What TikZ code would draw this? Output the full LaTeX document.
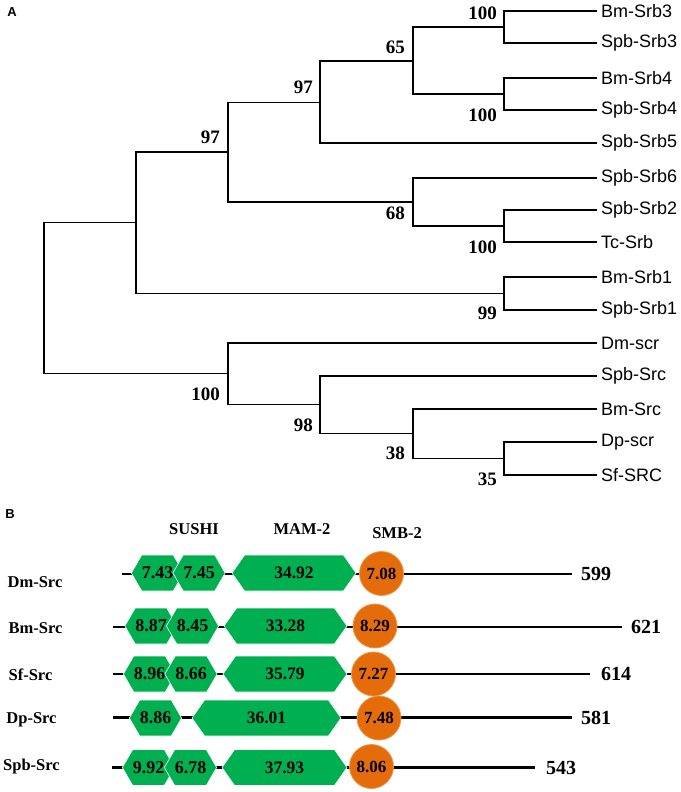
\documentclass[tikz,border=0pt]{standalone}
\usepackage{fontspec}
\setmainfont{Liberation Serif}
\newfontfamily\arialfont{Liberation Sans}
\usepackage{tikz}
\usetikzlibrary{shapes.symbols,positioning}
\definecolor{domgreen}{RGB}{0,176,80}
\definecolor{smborange}{RGB}{228,108,10}
\definecolor{smbedge}{RGB}{240,150,70}

\begin{document}
\begin{tikzpicture}[x=1pt,y=-1pt,
    branch/.style={line width=1.1pt},
    leaf/.style={anchor=west, inner sep=4pt, font=\arialfont\fontsize{18}{20}\selectfont},
    boot/.style={anchor=east, inner sep=0pt, font=\bfseries\fontsize{19}{21}\selectfont},
    panel/.style={font=\arialfont\bfseries\fontsize{13}{15}\selectfont},
    head/.style={font=\bfseries\fontsize{16.5}{18}\selectfont},
    rowlab/.style={font=\bfseries\fontsize{16.5}{18}\selectfont},
    lenlab/.style={anchor=west, inner sep=0pt, font=\bfseries\fontsize{20}{22}\selectfont},
    backbone/.style={line width=2.8pt},
    sushi/.style={signal, signal to=east and west, signal pointer angle=120,
        fill=domgreen, draw=white, line width=0.6pt, inner sep=0pt,
        minimum height=36, font=\bfseries\fontsize{18}{20}\selectfont},
    mam/.style={sushi, signal pointer angle=110, font=\bfseries\fontsize{17.5}{19}\selectfont},
    smb/.style={circle, fill=smborange, draw=smbedge, line width=0.8pt, inner sep=0pt,
        minimum size=44, font=\bfseries\fontsize{17}{19}\selectfont}]
    \useasboundingbox (0,0) rectangle (680,792);

    % Panel A: tree
    \node[panel] (pa) at (12,12) {A};

    % Leaves
    \foreach \n/\y/\t in {bmsrb3/11/Bm-Srb3, spbsrb3/43/Spb-Srb3, bmsrb4/78/Bm-Srb4,
        spbsrb4/110/Spb-Srb4, spbsrb5/143/Spb-Srb5, spbsrb6/178/Spb-Srb6,
        spbsrb2/210/Spb-Srb2, tcsrb/242/Tc-Srb, bmsrb1/277/Bm-Srb1,
        spbsrb1/310/Spb-Srb1, dmscr/343/Dm-scr, spbsrc/376/Spb-Src,
        bmsrc/409/Bm-Src, dpscr/442/Dp-scr, sfsrc/475/Sf-SRC}
        \node[leaf] (\n) at (597,\y) {\t};

    % Internal nodes
    \foreach \n/\x/\y in {nr/44/297.5, na/136/222.5, nb/228/152, nc/320/102.5,
        nd/413/61, ne/504/27, nf/504/94, ng/413/202, nh/504/226, ni/504/293.5,
        nj/228/373.5, nk/320/404.5, nl/413/433.5, nm/504/458.5}
        \coordinate (\n) at (\x,\y);

    % Branches
    \foreach \p/\c in {nr/na, nr/nj, na/nb, na/ni, nb/nc, nb/ng, nc/nd, nc/spbsrb5,
        nd/ne, nd/nf, ne/bmsrb3, ne/spbsrb3, nf/bmsrb4, nf/spbsrb4,
        ng/spbsrb6, ng/nh, nh/spbsrb2, nh/tcsrb, ni/bmsrb1, ni/spbsrb1,
        nj/dmscr, nj/nk, nk/spbsrc, nk/nl, nl/bmsrc, nl/nm, nm/dpscr, nm/sfsrc}
        \draw[branch] (\p) |- (\c);

    % Bootstrap values
    \foreach \n/\x/\y/\v in {bte/497/13/100, btd/405/47/65, btc/313/87/97,
        btb/220/137/97, btf/497/115/100, btg/405/213/68, bth/497/247/100,
        bti/497/313/99, btj/220/394/100, btk/313/425/98, btl/405/453/38,
        btm/497/479/35}
        \node[boot] (\n) at (\x,\y) {\v};

    % Panel B: domains
    \node[panel] (pb) at (10,514) {B};
    \node[head] (hsushi) at (194,529) {SUSHI};
    \node[head] (hmam) at (302,529) {MAM-2};
    \node[head] (hsmb) at (397,533) {SMB-2};

    % Dm-Src
    \node[rowlab] (dmlab) at (35,582) {Dm-Src};
    \coordinate (dms) at (122,574);
    \coordinate (dme) at (572,574);
    \draw[backbone] (dms) -- (dme);
    \node[lenlab, right=9pt of dme] (dmlen) {599};
    \node[sushi, minimum width=41] (dm1) at (157.5,573) {7.43};
    \node[sushi, minimum width=42] (dm2) at (199,573) {7.45};
    \node[mam, minimum width=124] (dm3) at (294,573) {34.92};
    \node[smb] (dm4) at (381.5,573.5) {7.08};

    % Bm-Src
    \node[rowlab] (bmlab) at (35.5,628) {Bm-Src};
    \coordinate (bms) at (113,627);
    \coordinate (bme) at (622,627);
    \draw[backbone] (bms) -- (bme);
    \node[lenlab, right=9pt of bme] (bmlen) {621};
    \node[sushi, minimum width=42] (bm1) at (151,626) {8.87};
    \node[sushi, minimum width=41] (bm2) at (192.5,626) {8.45};
    \node[mam, minimum width=123] (bm3) at (285.5,626) {33.28};
    \node[smb] (bm4) at (375,626) {8.29};

    % Sf-Src
    \node[rowlab] (sflab) at (30.5,675) {Sf-Src};
    \coordinate (sfs) at (113,674);
    \coordinate (sfe) at (590,674);
    \draw[backbone] (sfs) -- (sfe);
    \node[lenlab, right=11pt of sfe] (sflen) {614};
    \node[sushi, minimum width=41] (sf1) at (149.5,674) {8.96};
    \node[sushi, minimum width=42] (sf2) at (191,674) {8.66};
    \node[mam, minimum width=124] (sf3) at (285,674) {35.79};
    \node[smb] (sf4) at (373.5,674) {7.27};

    % Dp-Src
    \node[rowlab] (dplab) at (31.5,720) {Dp-Src};
    \coordinate (dps) at (113,717.5);
    \coordinate (dpe) at (572,717.5);
    \draw[backbone] (dps) -- (dpe);
    \node[lenlab, right=9pt of dpe] (dplen) {581};
    \node[sushi, minimum width=41] (dp1) at (155.5,718) {8.86};
    \node[mam, minimum width=149] (dp3) at (266.5,718) {36.01};
    \node[smb] (dp4) at (379,718) {7.48};

    % Spb-Src
    \node[rowlab] (spblab) at (31.5,767) {Spb-Src};
    \coordinate (spbs) at (112,767.5);
    \coordinate (spbe) at (535,767.5);
    \draw[backbone] (spbs) -- (spbe);
    \node[lenlab, right=11pt of spbe] (spblen) {543};
    \node[sushi, minimum width=41] (spb1) at (148.5,767.5) {9.92};
    \node[sushi, minimum width=43] (spb2) at (190.5,767.5) {6.78};
    \node[mam, minimum width=125] (spb3) at (284.5,767.5) {37.93};
    \node[smb] (spb4) at (371.5,766.5) {8.06};
\end{tikzpicture}
\end{document}
